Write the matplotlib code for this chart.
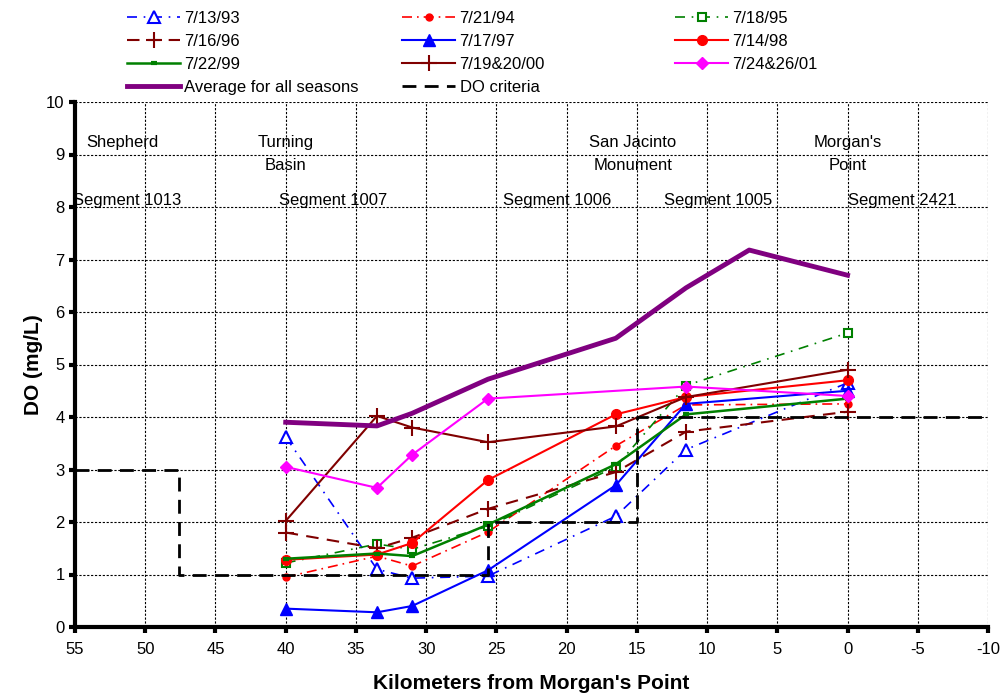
import matplotlib
matplotlib.use("Agg")
import matplotlib.pyplot as plt

plt.rcParams['font.family'] = ['Liberation Sans', 'DejaVu Sans']
plt.rcParams['axes.unicode_minus'] = False

# distance from Morgan's Point (km)
km = [40, 33.5, 31, 25.6, 16.5, 11.5, 0]
km_avg = [40, 33.5, 31, 25.6, 16.5, 11.5, 7, 0]
km_01 = [40, 33.5, 31, 25.6, 11.5, 0]

do_93 = [3.62, 1.10, 0.93, 0.97, 2.11, 3.38, 4.65]
do_94 = [0.95, 1.35, 1.16, 1.81, 3.45, 4.23, 4.25]
do_95 = [1.22, 1.58, 1.48, 1.92, 3.05, 4.60, 5.60]
do_96 = [1.80, 1.50, 1.70, 2.25, 2.95, 3.72, 4.10]
do_97 = [0.35, 0.28, 0.40, 1.08, 2.70, 4.25, 4.50]
do_98 = [1.28, 1.38, 1.60, 2.80, 4.05, 4.38, 4.70]
do_99 = [1.30, 1.40, 1.35, 1.95, 3.10, 4.05, 4.35]
do_00 = [2.02, 4.02, 3.80, 3.52, 3.82, 4.38, 4.90]
do_01 = [3.05, 2.65, 3.28, 4.35, 4.58, 4.40]
do_avg = [3.90, 3.83, 4.07, 4.72, 5.50, 6.46, 7.18, 6.70]

crit_km = [55, 47.6, 47.6, 25.6, 25.6, 15, 15, -10]
crit_do = [3, 3, 1, 1, 2, 2, 4, 4]

places = [(51.6, 9.23, "Shepherd"), (40, 9.01, "Turning\nBasin"),
          (15.3, 9.01, "San Jacinto\nMonument"), (0, 9.01, "Morgan's\nPoint")]
segments = [(51.3, "Segment 1013"), (36.6, "Segment 1007"), (20.7, "Segment 1006"),
            (9.2, "Segment 1005"), (-3.9, "Segment 2421")]

W, H = 1006, 696
fig = plt.figure(figsize=(W / 100, H / 100), dpi=100)
ax = fig.add_axes([75 / W, 1 - 627 / H, 913 / W, 525 / H])

h = {}
h['7/13/93'], = ax.plot(km, do_93, color='blue', ls=(0, (6, 4, 1, 4)), lw=1.2, marker='^',
                        mfc='white', mec='blue', mew=1.5, ms=8)
h['7/21/94'], = ax.plot(km, do_94, color='red', ls=(0, (6, 3, 1, 3)), lw=1.2, marker='o', ms=5)
h['7/18/95'], = ax.plot(km, do_95, color='green', ls=(0, (6, 4, 1, 4)), lw=1.2, marker='s',
                        mfc='white', mec='green', mew=1.5, ms=6)
h['7/16/96'], = ax.plot(km, do_96, color='#800000', ls=(0, (6, 4)), lw=1.5, marker='+',
                        mew=1.5, ms=11)
h['7/17/97'], = ax.plot(km, do_97, color='blue', lw=1.5, marker='^', ms=8)
h['7/14/98'], = ax.plot(km, do_98, color='red', lw=1.5, marker='o', ms=7)
h['7/22/99'], = ax.plot(km, do_99, color='green', lw=1.8, marker='_', mew=3, ms=5)
h['7/19&20/00'], = ax.plot(km, do_00, color='#800000', lw=1.5, marker='+', mew=1.5, ms=11)
h['7/24&26/01'], = ax.plot(km_01, do_01, color='magenta', lw=1.5, marker='D', ms=6)
h['Average for all seasons'], = ax.plot(km_avg, do_avg, color='#800080', lw=3.5)
h['DO criteria'], = ax.plot(crit_km, crit_do, color='black', ls=(0, (5, 3)), lw=2)

for x, y, t in places:
    ax.text(x, y, t, ha='center', va='center', fontsize=12, linespacing=1.6)
for x, t in segments:
    ax.text(x, 8.13, t, ha='center', va='center', fontsize=12)

ax.set_xlim(55, -10)
ax.set_ylim(0, 10)
ax.set_xticks(range(55, -11, -5))
ax.set_yticks(range(0, 11))
ax.grid(True, color='black', ls=(0, (2, 1.5)), lw=0.8)
ax.tick_params(labelsize=12, width=3, length=4, direction='out')
ax.tick_params(axis='x', pad=7)
for s in ['top', 'right']:
    ax.spines[s].set_visible(False)
for s in ['left', 'bottom']:
    ax.spines[s].set_linewidth(3)
ax.set_xlabel("Kilometers from Morgan's Point", fontsize=15, fontweight='bold', labelpad=12)
ax.set_ylabel("DO (mg/L)", fontsize=15, fontweight='bold', labelpad=2)

# legend laid out row-wise as three separate columns
columns = [['7/13/93', '7/16/96', '7/22/99', 'Average for all seasons'],
           ['7/21/94', '7/17/97', '7/19&20/00', 'DO criteria'],
           ['7/18/95', '7/14/98', '7/24&26/01']]
col_x = [127, 402, 675]
for cx, names in zip(col_x, columns):
    leg = fig.legend([h[n] for n in names], names, loc='upper left',
                     bbox_to_anchor=(cx / W, 1 - 11 / H), frameon=False, fontsize=12,
                     handlelength=3.2, handletextpad=0.25, labelspacing=0.48,
                     borderpad=0, borderaxespad=0)

fig.savefig('out.png', dpi=100)
